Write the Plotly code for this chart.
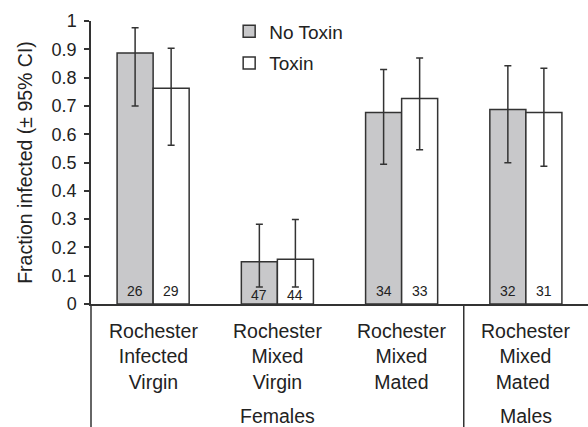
import plotly.graph_objects as go

categories = ["Rochester<br>Infected<br>Virgin", "Rochester<br>Mixed<br>Virgin",
              "Rochester<br>Mixed<br>Mated", "Rochester<br>Mixed<br>Mated "]
groups = ["Females", "Males"]
group_centers = [1, 3]  # category index of group label

no_toxin = [0.887, 0.149, 0.677, 0.687]
no_toxin_hi = [0.976, 0.282, 0.829, 0.842]
no_toxin_lo = [0.700, 0.060, 0.494, 0.499]
no_toxin_n = ["26", "47", "34", "32"]

toxin = [0.762, 0.158, 0.726, 0.677]
toxin_hi = [0.904, 0.299, 0.869, 0.833]
toxin_lo = [0.561, 0.060, 0.545, 0.487]
toxin_n = ["29", "44", "33", "31"]

yticks = [0, 0.1, 0.2, 0.3, 0.4, 0.5, 0.6, 0.7, 0.8, 0.9, 1]
yticktext = ["0", "0.1", "0.2", "0.3", "0.4", "0.5", "0.6", "0.7", "0.8", "0.9", "1"]

FONT = "Liberation Sans, Arial, sans-serif"
TXT = "#222222"
LINE = "#333333"

def err(vals, hi, lo):
    return dict(type="data", symmetric=False,
                array=[h - v for h, v in zip(hi, vals)],
                arrayminus=[v - l for v, l in zip(vals, lo)],
                color=LINE, thickness=1.5, width=3.5)

fig = go.Figure()
fig.add_trace(go.Bar(x=categories, y=no_toxin, name="No Toxin",
                     marker=dict(color="#c8c8ca", line=dict(color=LINE, width=1.5)),
                     error_y=err(no_toxin, no_toxin_hi, no_toxin_lo), legendgroup="a"))
fig.add_trace(go.Bar(x=categories, y=toxin, name="Toxin",
                     marker=dict(color="#ffffff", line=dict(color=LINE, width=1.5)),
                     error_y=err(toxin, toxin_hi, toxin_lo), legendgroup="b"))

ann = []
for i, c in enumerate(categories):
    low = 1 if i == 1 else 0
    ann.append(dict(x=c, y=0, xref="x", yref="y", text=no_toxin_n[i], showarrow=False,
                    xshift=-18, yanchor="bottom", yshift=3 - 4 * low,
                    font=dict(family=FONT, size=14, color=TXT)))
    ann.append(dict(x=c, y=0, xref="x", yref="y", text=toxin_n[i], showarrow=False,
                    xshift=18, yanchor="bottom", yshift=3 - 4 * low,
                    font=dict(family=FONT, size=14, color=TXT)))
    ann.append(dict(x=c, y=-0.05, xref="x", yref="paper", text=c, showarrow=False,
                    yanchor="top", font=dict(family=FONT, size=19.5, color=TXT)))
for g, gi in zip(groups, group_centers):
    ann.append(dict(x=categories[gi], y=-0.396, xref="x", yref="paper", text=g,
                    showarrow=False, yanchor="middle",
                    font=dict(family=FONT, size=19.5, color=TXT)))

fig.update_layout(
    width=588, height=427,
    margin=dict(l=91, r=0, t=21, b=123, autoexpand=False),
    plot_bgcolor="white", paper_bgcolor="white",
    barmode="group", bargap=0.42, bargroupgap=0,
    annotations=ann,
    showlegend=True,
    legend=dict(x=0.278, y=1.03, xanchor="left", yanchor="top",
                font=dict(family=FONT, size=19, color=TXT),
                bgcolor="rgba(0,0,0,0)", tracegroupgap=4, traceorder="grouped"),
    shapes=[
        dict(type="line", xref="paper", yref="paper", x0=0, x1=0, y0=0, y1=-0.44,
             line=dict(color=LINE, width=1.5)),
        dict(type="line", xref="x", yref="paper", x0=2.5, x1=2.5, y0=0, y1=-0.44,
             line=dict(color=LINE, width=1.5)),
    ],
)
fig.update_xaxes(type="category", showticklabels=False, ticks="", showline=True,
                 linecolor=LINE, linewidth=1.5, showgrid=False, zeroline=False,
                 range=[-0.5, 3.5], automargin=False)
fig.update_yaxes(range=[0, 1], tickvals=yticks, ticktext=yticktext, ticks="outside",
                 ticklen=5, tickcolor=LINE, tickwidth=1.5, showline=True, linecolor=LINE,
                 linewidth=1.5, showgrid=False, zeroline=False, ticklabelstandoff=4,
                 automargin=False,
                 tickfont=dict(family=FONT, size=18, color=TXT),
                 title=dict(text="Fraction infected (± 95% CI)", standoff=14,
                            font=dict(family=FONT, size=19.5, color=TXT)))

fig.write_html("out.html", config={"displayModeBar": False},
               post_script="document.body.style.margin='0';document.body.style.overflow='hidden';")
